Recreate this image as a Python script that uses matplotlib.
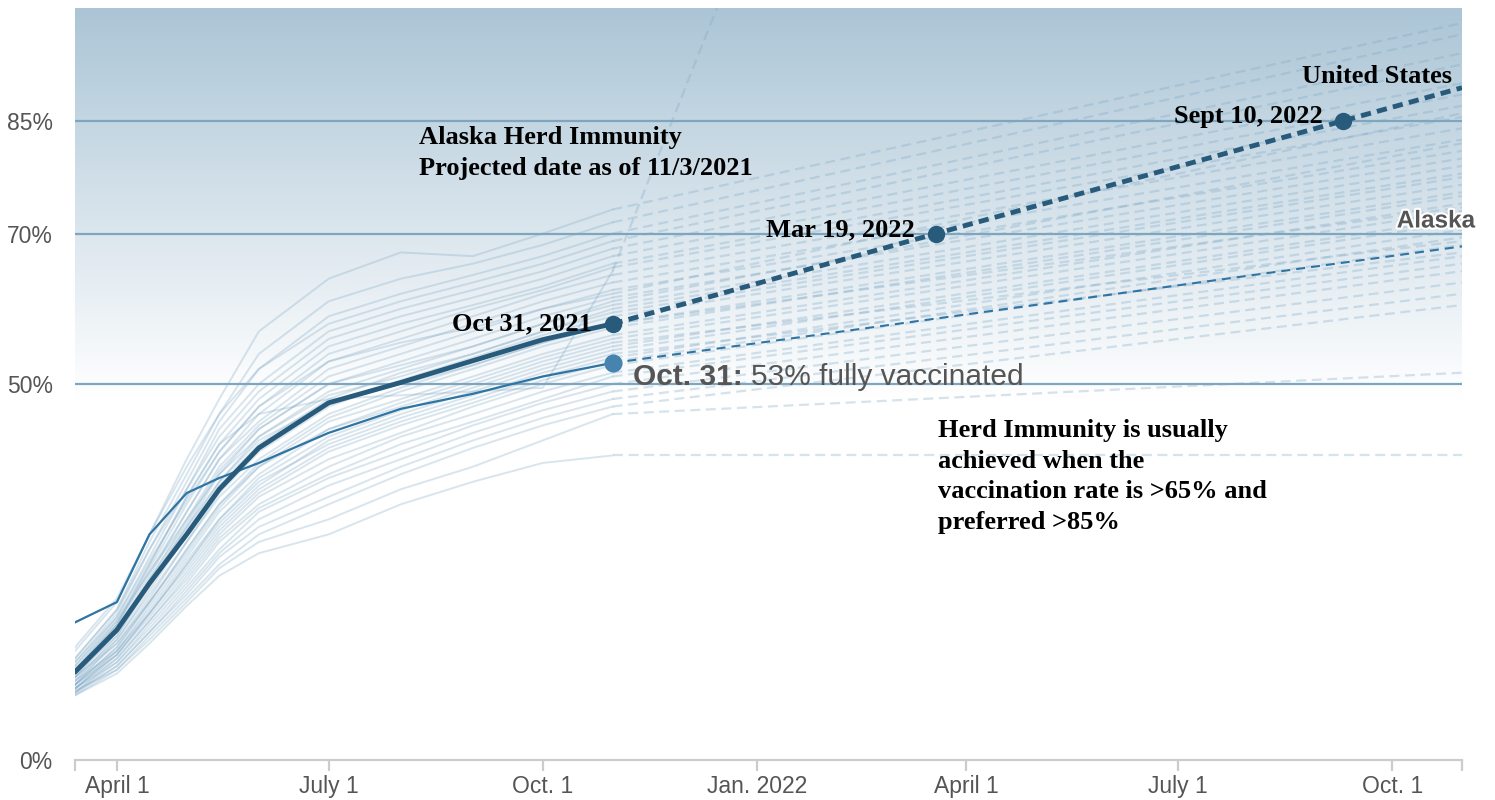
"""
Herd immunity projection chart - US states vaccination (fully vaccinated %)
"""
import datetime as dt
import numpy as np
import matplotlib
matplotlib.use("Agg")
import matplotlib.pyplot as plt
import matplotlib.dates as mdates
import matplotlib.patheffects as pe
from matplotlib.colors import LinearSegmentedColormap

# ── Data ──────────────────────────────────────────────────────────
HIST_DATES = [dt.date(2021, 3, 14), dt.date(2021, 4, 1), dt.date(2021, 4, 15),
              dt.date(2021, 5, 1), dt.date(2021, 5, 15), dt.date(2021, 6, 1),
              dt.date(2021, 7, 1), dt.date(2021, 8, 1), dt.date(2021, 9, 1),
              dt.date(2021, 10, 1), dt.date(2021, 10, 31)]
PROJ_END = dt.date(2022, 10, 31)

US_HIST = [11.7, 17.3, 23.5, 30.0, 36.0, 41.5, 47.5, 50.2, 53.1, 55.9, 58.0]
US_PROJ_DATES = [dt.date(2021, 10, 31), dt.date(2022, 3, 19),
                 dt.date(2022, 9, 10), dt.date(2022, 10, 31)]
US_PROJ = [58.0, 70.0, 85.0, 89.4]
US_LABELS = ["Oct 31, 2021", "Mar 19, 2022", "Sept 10, 2022"]

AK_HIST = [18.3, 21.0, 30.0, 35.5, 37.5, 39.5, 43.5, 46.7, 48.7, 51.0, 52.8]
AK_PROJ_END = 68.3

# other states: values at HIST_DATES, then projected value at PROJ_END
STATE_HIST = [
    [14.5, 21.0, 30.0, 40.0, 48.0, 57.0, 64.0, 67.5, 67.0, 70.0, 73.2],
    [13.5, 20.0, 29.0, 38.0, 46.0, 54.0, 61.0, 64.0, 66.0, 68.5, 71.5],
    [15.0, 21.5, 30.0, 39.0, 46.0, 52.0, 59.0, 62.0, 64.5, 67.0, 70.0],
    [13.0, 19.5, 28.0, 37.0, 45.0, 52.0, 58.0, 61.0, 63.5, 66.0, 69.0],
    [12.5, 19.0, 27.0, 36.0, 44.0, 50.0, 57.0, 60.0, 62.5, 65.0, 68.0],
    [13.5, 20.0, 28.0, 36.0, 43.0, 49.0, 56.0, 59.0, 61.5, 64.0, 67.0],
    [12.0, 18.5, 26.0, 35.0, 42.0, 48.0, 55.0, 58.0, 60.5, 63.0, 66.0],
    [11.5, 18.0, 25.5, 34.0, 41.0, 47.0, 54.0, 57.0, 60.0, 62.5, 65.5],
    [12.5, 18.5, 25.0, 33.0, 40.0, 46.0, 53.0, 56.0, 59.0, 62.0, 64.5],
    [11.0, 17.5, 24.5, 33.0, 40.0, 45.0, 52.0, 55.0, 58.0, 61.0, 63.5],
    [12.0, 17.0, 24.0, 32.0, 39.0, 44.5, 51.0, 54.0, 57.0, 60.0, 62.5],
    [10.5, 16.5, 23.5, 31.0, 38.0, 44.0, 50.0, 53.0, 56.0, 59.0, 61.5],
    [11.5, 16.5, 23.0, 30.5, 37.0, 43.0, 49.0, 52.0, 55.0, 58.0, 60.5],
    [10.0, 16.0, 22.5, 30.0, 36.5, 42.0, 48.0, 51.5, 54.0, 57.0, 59.5],
    [11.0, 16.0, 22.0, 29.0, 35.5, 41.0, 47.0, 50.5, 53.5, 56.5, 59.0],
    [10.5, 15.5, 21.5, 29.0, 35.0, 40.0, 46.0, 49.5, 52.5, 55.5, 58.0],
    [10.0, 15.0, 21.0, 28.0, 34.0, 39.5, 45.5, 49.0, 52.0, 55.0, 57.5],
    [11.0, 15.5, 21.0, 27.5, 33.5, 39.0, 45.0, 48.0, 51.0, 54.0, 56.5],
    [10.0, 14.5, 20.5, 27.0, 33.0, 38.0, 44.0, 47.5, 50.5, 53.5, 56.0],
    [9.5, 14.5, 20.0, 26.5, 32.0, 37.5, 43.0, 46.5, 49.5, 52.5, 55.0],
    [10.5, 14.5, 19.5, 26.0, 31.5, 36.5, 42.5, 46.0, 49.0, 52.0, 54.5],
    [9.5, 14.0, 19.5, 25.5, 31.0, 36.0, 41.5, 45.0, 48.0, 51.0, 53.5],
    [10.0, 14.0, 19.0, 25.0, 30.5, 35.5, 41.0, 44.5, 47.5, 50.5, 53.0],
    [9.0, 13.5, 18.5, 24.5, 30.0, 35.0, 40.0, 43.5, 47.0, 50.0, 52.5],
    [9.5, 13.5, 18.5, 24.0, 29.5, 34.0, 39.0, 43.0, 46.0, 49.0, 51.5],
    [9.0, 13.0, 18.0, 23.5, 29.0, 33.5, 38.0, 42.0, 45.0, 48.0, 51.0],
    [9.5, 13.0, 17.5, 23.0, 28.0, 33.0, 37.5, 41.0, 44.5, 47.5, 50.0],
    [8.8, 12.5, 17.0, 22.5, 27.5, 32.0, 36.5, 40.0, 43.5, 46.5, 49.0],
    [9.0, 12.5, 17.0, 22.0, 27.0, 31.0, 35.0, 39.0, 42.5, 45.5, 48.0],
    [8.6, 12.0, 16.5, 21.5, 26.0, 30.0, 34.0, 38.0, 41.5, 44.5, 47.0],
    [9.2, 12.0, 16.0, 21.0, 25.5, 29.0, 32.0, 36.0, 39.0, 42.5, 46.0],
    [8.6, 11.5, 15.5, 20.5, 24.5, 27.5, 30.0, 34.0, 37.0, 39.5, 40.5],
    [12.0, 18.0, 26.0, 35.0, 42.0, 46.0, 48.0, 48.5, 49.0, 49.5, 65.0],
    [12.0, 18.0, 25.0, 32.0, 38.0, 43.0, 48.5, 51.0, 54.0, 57.0, 60.0],
    [11.0, 17.0, 23.5, 31.0, 37.0, 42.5, 47.5, 50.0, 52.5, 55.5, 58.0],
    [13.0, 19.0, 26.5, 34.5, 41.0, 47.0, 53.0, 55.5, 57.5, 60.0, 62.0],
    [10.0, 15.0, 21.0, 28.0, 34.0, 39.0, 44.0, 47.0, 50.0, 53.0, 55.5],
    [11.5, 17.0, 24.0, 31.5, 38.5, 44.0, 50.0, 52.5, 55.0, 58.0, 61.0],
    [9.5, 14.0, 19.5, 26.0, 32.0, 37.0, 42.0, 45.5, 48.5, 51.5, 54.0],
]
STATE_END = [98.0, 96.5, 94.0, 92.5, 90.0, 88.5, 87.0, 85.5, 84.0, 82.5,
             81.0, 80.0, 79.0, 77.5, 76.5, 75.5, 75.0, 74.0, 73.0, 72.0,
             71.5, 70.5, 69.5, 68.5, 67.0, 66.0, 65.0, 63.5, 62.0, 60.5,
             51.5, 40.5, 350.0, 78.0, 73.5, 86.0, 69.0, 82.0, 67.5]

Y_TICKS = [0, 50, 70, 85]
Y_TICK_LABELS = ["0%", "50%", "70%", "85%"]
X_TICKS = [dt.date(2021, 4, 1), dt.date(2021, 7, 1), dt.date(2021, 10, 1),
           dt.date(2022, 1, 1), dt.date(2022, 4, 1), dt.date(2022, 7, 1),
           dt.date(2022, 10, 1)]
X_TICK_LABELS = ["April 1", "July 1", "Oct. 1", "Jan. 2022", "April 1",
                 "July 1", "Oct. 1"]
X_START = dt.date(2021, 3, 14)

# ── Style ─────────────────────────────────────────────────────────
US_COLOR = "#285b7b"
AK_COLOR = "#2f74a2"
AK_DOT = "#4683ae"
STATE_COLOR = "#7fa9c6"
GRID_COLOR = "#7fa6bf"
AXIS_GRAY = "#cccccc"
LABEL_GRAY = "#555555"
SERIF = "Liberation Serif"
SANS = "Liberation Sans"

fig = plt.figure(figsize=(14.95, 8), dpi=100)
ax = fig.add_axes([75 / 1495, 40 / 800, (1462 - 75) / 1495, 752 / 800])

x0 = mdates.date2num(X_START)
x1 = mdates.date2num(PROJ_END)

# gradient background
grad = np.linspace(0, 1, 256).reshape(-1, 1)
cmap = LinearSegmentedColormap.from_list("bg", ["#ffffff", "#abc5d6"])
ax.imshow(grad, extent=[x0, x1, 48, 100], origin="lower", cmap=cmap,
          aspect="auto", zorder=0, interpolation="bilinear")

for y in Y_TICKS[1:]:
    ax.axhline(y, color=GRID_COLOR, lw=1.6, zorder=1)

# states
hist_x = [mdates.date2num(d) for d in HIST_DATES]
for vals, end in zip(STATE_HIST, STATE_END):
    ax.plot(hist_x, vals, color=STATE_COLOR, lw=1.4, alpha=0.3, zorder=2)
    ax.plot([hist_x[-1], x1], [vals[-1], end], color=STATE_COLOR, lw=1.6,
            alpha=0.32, ls=(0, (4.5, 2.5)), zorder=2)

# Alaska
ax.plot(hist_x, AK_HIST, color=AK_COLOR, lw=1.6, zorder=3)
ax.plot([hist_x[-1], x1], [AK_HIST[-1], AK_PROJ_END], color=AK_COLOR, lw=1.5,
        ls=(0, (4.3, 2.9)), zorder=3)
ax.plot(hist_x[-1], AK_HIST[-1], "o", color=AK_DOT, ms=12, zorder=4)

# United States
us_px = [mdates.date2num(d) for d in US_PROJ_DATES]
ax.plot(hist_x, US_HIST, color=US_COLOR, lw=3.5, zorder=4,
        solid_capstyle="round")
ax.plot(us_px, US_PROJ, color=US_COLOR, lw=3.5, ls=(0, (2.1, 1.3)), zorder=4)
ax.plot(us_px[:3], US_PROJ[:3], "o", color=US_COLOR, ms=11.5, zorder=5)

for i, (xv, yv, lab) in enumerate(zip(us_px[:3], US_PROJ[:3], US_LABELS)):
    ax.annotate(lab, (xv, yv), xytext=(-15, 0 if i == 0 else 3),
                textcoords="offset points", ha="right", va="center",
                fontsize=19, fontweight="bold", family=SERIF, color="black",
                zorder=6)

ax.annotate("United States", (us_px[-1], US_PROJ[-1]), xytext=(-7, 8),
            textcoords="offset points", ha="right", va="center", fontsize=19,
            fontweight="bold", family=SERIF, color="black", zorder=6)

ax.annotate("Alaska", (x1, AK_PROJ_END), xytext=(-47, 10),
            textcoords="offset points", ha="left", va="bottom", fontsize=17.5,
            fontweight="bold", family=SANS, color=LABEL_GRAY, zorder=6,
            annotation_clip=False,
            path_effects=[pe.withStroke(linewidth=3, foreground="white")])

t1 = ax.annotate("Oct. 31:", (hist_x[-1], AK_HIST[-1]), xytext=(15, -10),
                 textcoords="offset points", ha="left", va="center",
                 fontsize=21.5, fontweight="bold", family=SANS,
                 color=LABEL_GRAY, zorder=6)
ax.annotate("53% fully vaccinated", xy=(1, 0), xycoords=t1, xytext=(6, 0),
            textcoords="offset points", ha="left", va="bottom", fontsize=21.5,
            family=SANS, color=LABEL_GRAY, zorder=6)

ax.text(mdates.date2num(dt.date(2021, 8, 9)), 84.3,
        "Alaska Herd Immunity\nProjected date as of 11/3/2021",
        ha="left", va="top", fontsize=19, fontweight="bold", family=SERIF,
        linespacing=1.42, zorder=6)
ax.text(mdates.date2num(dt.date(2022, 3, 20)), 45.3,
        "Herd Immunity is usually\nachieved when the\n"
        "vaccination rate is >65% and\npreferred >85%",
        ha="left", va="top", fontsize=19, fontweight="bold", family=SERIF,
        linespacing=1.42, zorder=6)

# axes
ax.set_xlim(x0, x1)
ax.set_ylim(0, 100)
for s in ["top", "right", "left"]:
    ax.spines[s].set_visible(False)
ax.spines["bottom"].set_color(AXIS_GRAY)
ax.spines["bottom"].set_linewidth(1.6)

ax.set_yticks(Y_TICKS)
ax.set_yticklabels(Y_TICK_LABELS)
ax.tick_params(axis="y", length=0, pad=16, labelsize=16.5,
               labelcolor=LABEL_GRAY)
for lab in ax.get_yticklabels():
    lab.set_family(SANS)

ax.set_xticks([mdates.date2num(d) for d in X_TICKS])
ax.set_xticklabels(X_TICK_LABELS)
ax.set_xticks([x0, x1], minor=True)
ax.tick_params(axis="x", which="both", length=8, width=1.6, color=AXIS_GRAY,
               pad=3, labelsize=16.5, labelcolor=LABEL_GRAY)
for lab in ax.get_xticklabels():
    lab.set_family(SANS)

fig.savefig("out.png", dpi=100)
